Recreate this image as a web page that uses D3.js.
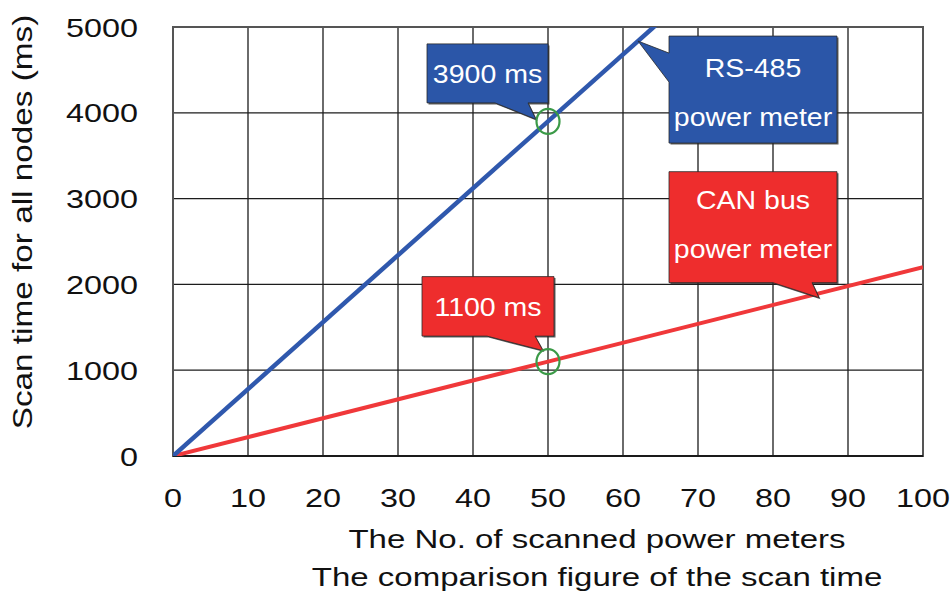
<!DOCTYPE html>
<html>
<head>
<meta charset="utf-8">
<script src="https://cdn.jsdelivr.net/npm/d3@7"></script>
<style>
  html, body { margin: 0; padding: 0; background: #fff; }
  svg { display: block; font-family: "Liberation Sans", Arial, sans-serif; }
</style>
</head>
<body>
<svg id="chart" width="950" height="592"></svg>
<script>
// Scan time (ms) against the number of scanned power meters
const xTicks = [0, 10, 20, 30, 40, 50, 60, 70, 80, 90, 100];
const yTicks = [0, 1000, 2000, 3000, 4000, 5000];

const rs485Meters = [0, 50, 100];
const rs485Times  = [0, 3900, 7800];
const canMeters   = [0, 50, 100];
const canTimes    = [0, 1100, 2200];

// highlighted points at 50 meters
const markMeters = [50, 50];
const markTimes  = [3900, 1100];
const markLabels = ["3900 ms", "1100 ms"];

const seriesNames = [["RS-485", "power meter"], ["CAN bus", "power meter"]];

const xTitle = ["The No. of scanned power meters", "The comparison figure of the scan time"];
const yTitle = "Scan time for all nodes (ms)";

const BLUE = "#2b56a8", BLUE_LINE = "#2f58ad";
const RED = "#ee2d2d", RED_LINE = "#f0383a";
const GREEN = "#3b9a47";
const SX = 1.27; // horizontal stretch of the lettering

const svg = d3.select("#chart");
const x = d3.scaleLinear().domain([0, 100]).range([173, 923]);
const y = d3.scaleLinear().domain([0, 5000]).range([456, 27]);

svg.append("defs").append("clipPath").attr("id", "plot")
  .append("rect").attr("x", x(0)).attr("y", y(5000))
  .attr("width", x(100) - x(0)).attr("height", y(0) - y(5000));

// grid
const grid = svg.append("g").attr("stroke", "#1c1c1c").attr("stroke-width", 1.3);
grid.selectAll("line.v").data(xTicks.slice(1, -1)).join("line")
  .attr("x1", d => x(d)).attr("x2", d => x(d)).attr("y1", y(5000)).attr("y2", y(0));
grid.selectAll("line.h").data(yTicks.slice(1, -1)).join("line")
  .attr("x1", x(0)).attr("x2", x(100)).attr("y1", d => y(d)).attr("y2", d => y(d));
svg.append("rect").attr("x", x(0)).attr("y", y(5000))
  .attr("width", x(100) - x(0)).attr("height", y(0) - y(5000))
  .attr("fill", "none").attr("stroke", "#555").attr("stroke-width", 2);
svg.append("line").attr("x1", x(0)).attr("x2", x(100)).attr("y1", y(0)).attr("y2", y(0))
  .attr("stroke", "#1a1a1a").attr("stroke-width", 2);

// tick labels
function stretched(sel, px, py) {
  return sel.attr("transform", `translate(${px},${py}) scale(${SX},1)`);
}
const tickFont = 25.5;
xTicks.forEach(t => {
  stretched(svg.append("text"), x(t), 507)
    .attr("text-anchor", "middle").attr("font-size", tickFont).attr("fill", "#111").text(t);
});
yTicks.forEach(t => {
  stretched(svg.append("text"), 138, y(t) + 9.5)
    .attr("text-anchor", "end").attr("font-size", tickFont).attr("fill", "#111").text(t);
});

// axis titles
stretched(svg.append("text"), 597, 548).attr("text-anchor", "middle")
  .attr("font-size", 26).attr("fill", "#111").text(xTitle[0]);
stretched(svg.append("text"), 597, 586).attr("text-anchor", "middle")
  .attr("font-size", 26).attr("fill", "#111").text(xTitle[1]);
svg.append("text")
  .attr("transform", "translate(32,222) rotate(-90) scale(1.19,1)")
  .attr("text-anchor", "middle").attr("font-size", 28).attr("fill", "#111").text(yTitle);

// series lines
const line = d3.line().x(d => x(d[0])).y(d => y(d[1]));
const plot = svg.append("g").attr("clip-path", "url(#plot)");
plot.append("path").datum(d3.zip(canMeters, canTimes)).attr("d", line)
  .attr("fill", "none").attr("stroke", RED_LINE).attr("stroke-width", 4);
plot.append("path").datum(d3.zip(rs485Meters, rs485Times)).attr("d", line)
  .attr("fill", "none").attr("stroke", BLUE_LINE).attr("stroke-width", 4.5);

// value on a series at a given meter count
function onLine(ms, ts, m) {
  return d3.scaleLinear().domain(ms).range(ts)(m);
}

// callout: box with a pointed tail ending at the anchor
function callout(ax, ay, box, tail, fill, lines, baselines) {
  const [l, t, r, b] = [ax + box[0], ay + box[1], ax + box[2], ay + box[3]];
  let pts;
  if (tail.side === "bottom") {
    const [b0, b1] = [ax + tail.base[0], ax + tail.base[1]];
    pts = [[l, t], [r, t], [r, b], [b1, b], [ax + tail.tip[0], ay + tail.tip[1]], [b0, b], [l, b]];
  } else {
    const [b0, b1] = [ay + tail.base[0], ay + tail.base[1]];
    pts = [[l, t], [r, t], [r, b], [l, b], [l, b1], [ax + tail.tip[0], ay + tail.tip[1]], [l, b0]];
  }
  const g = svg.append("g");
  g.append("path").attr("d", "M" + pts.map(p => p.join(",")).join("L") + "Z")
    .attr("transform", "translate(1.5,1.5)").attr("fill", "#2a2a2a").attr("opacity", 0.75);
  g.append("path").attr("d", "M" + pts.map(p => p.join(",")).join("L") + "Z")
    .attr("fill", fill).attr("stroke", "#2a2a2a").attr("stroke-width", 0.8);
  lines.forEach((s, i) => {
    g.append("text").attr("transform", `translate(${(l + r) / 2},${ay + baselines[i]}) scale(1.14,1)`)
      .attr("text-anchor", "middle").attr("font-size", 25).attr("fill", "#fff").text(s);
  });
}

// value callouts at 50 meters
const fills = [BLUE, RED];
callout(x(markMeters[0]), y(markTimes[0]), [-121, -77.5, 0, -18.5],
  { side: "bottom", base: [-53, -20], tip: [-12, -2] }, fills[0], [markLabels[0]], [-38]);
callout(x(markMeters[1]), y(markTimes[1]), [-126, -85, 6, -25.5],
  { side: "bottom", base: [-61, -13], tip: [-5, -11] }, fills[1], [markLabels[1]], [-45.5]);

// series name callouts pointing at each line
const rsAt = 62, canAt = 86;
callout(x(rsAt), y(onLine(rs485Meters, rs485Times, rsAt)), [31, -5, 199, 102],
  { side: "left", base: [12, 41], tip: [0, 0] }, fills[0], seriesNames[0], [35.5, 85]);
callout(x(canAt), y(onLine(canMeters, canTimes, canAt)), [-149, -122, 19, -11],
  { side: "bottom", base: [-45, -6], tip: [1, 4] }, fills[1], seriesNames[1], [-84.5, -35.5]);

// green rings on the highlighted points
svg.selectAll("ellipse.mark").data(d3.zip(markMeters, markTimes)).join("ellipse")
  .attr("cx", d => x(d[0])).attr("cy", d => y(d[1]))
  .attr("rx", 11.5).attr("ry", 12.5)
  .attr("fill", "none").attr("stroke", GREEN).attr("stroke-width", 2.2);
</script>
</body>
</html>
